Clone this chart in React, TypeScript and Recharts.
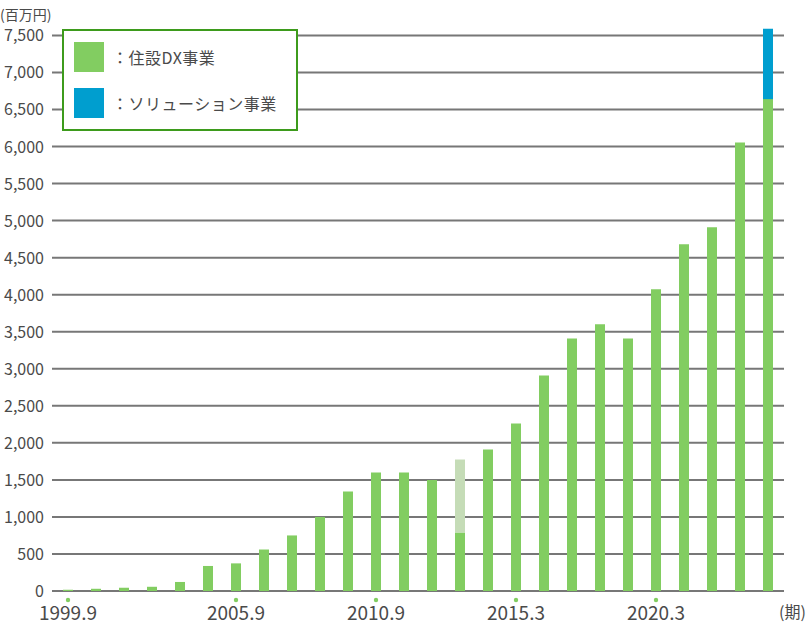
import React from 'react';
import { BarChart, Bar, XAxis, YAxis, CartesianGrid } from 'recharts';

const categories = ['1999.9','2000.9','2001.9','2002.9','2003.9','2004.9','2005.9','2006.9','2007.9','2008.9','2009.9','2010.9','2011.9','2012.9','2013.9','2014.3','2015.3','2016.3','2017.3','2018.3','2019.3','2020.3','2021.3','2022.3','2023.3','2024.3'];
const housingDx = [17, 30, 44, 57, 122, 338, 373, 560, 750, 1000, 1342, 1600, 1600, 1500, 790, 1910, 2260, 2910, 3410, 3600, 3410, 4072, 4680, 4909, 6055, 6640];
const housingDxLight = [0, 0, 0, 0, 0, 0, 0, 0, 0, 0, 0, 0, 0, 0, 985, 0, 0, 0, 0, 0, 0, 0, 0, 0, 0, 0];
const solution = [0, 0, 0, 0, 0, 0, 0, 0, 0, 0, 0, 0, 0, 0, 0, 0, 0, 0, 0, 0, 0, 0, 0, 0, 0, 950];
const labeledTicks = ['1999.9', '2005.9', '2010.9', '2015.3', '2020.3'];
const yTicks = [0, 500, 1000, 1500, 2000, 2500, 3000, 3500, 4000, 4500, 5000, 5500, 6000, 6500, 7000, 7500];
const legendItems = [
  { name: '：住設DX事業', color: '#82cd61' },
  { name: '：ソリューション事業', color: '#009ecf' },
];

const data = categories.map((c, i) => ({
  period: c,
  dx: housingDx[i],
  light: housingDxLight[i],
  sol: solution[i],
}));

const FONT = '"Noto Sans CJK JP", "Noto Sans", sans-serif';
const GREEN = '#82cd61';
const LIGHT = '#c5dcb7';
const BLUE = '#009ecf';
const TEXT = '#4a4a4a';

const XTick = (props: any) => {
  const { x, y, payload } = props;
  if (!labeledTicks.includes(payload.value)) return null;
  return (
    <g>
      <circle cx={x} cy={y + 9} r={2.2} fill={GREEN} />
      <text x={x} y={y + 29} textAnchor="middle" fontSize={19} fill={TEXT} fontFamily={FONT}>
        {payload.value}
      </text>
    </g>
  );
};

const YTick = (props: any) => {
  const { x, y, payload } = props;
  return (
    <text x={x} y={y + 6} textAnchor="end" fontSize={16} fill={TEXT} fontFamily={FONT}>
      {payload.value.toLocaleString('en-US')}
    </text>
  );
};

export default function App() {
  return (
    <div style={{ position: 'absolute', left: 0, top: 0, width: 808, height: 624, fontFamily: FONT, background: '#fff' }}>
      <BarChart
        width={808}
        height={624}
        data={data}
        margin={{ top: 28, right: 24, left: 0, bottom: 0 }}
        barCategoryGap={0}
      >
        <CartesianGrid vertical={false} horizontalValues={yTicks} stroke="#777" strokeWidth={2} />
        <XAxis
          dataKey="period"
          interval={0}
          axisLine={false}
          tickLine={false}
          tickSize={0}
          tickMargin={0}
          height={33}
          padding={{ left: 2, right: 2 }}
          tick={<XTick />}
        />
        <YAxis
          width={52}
          domain={[0, 7600]}
          ticks={yTicks}
          axisLine={false}
          tickLine={false}
          tick={<YTick />}
        />
        <Bar dataKey="dx" stackId="a" fill={GREEN} barSize={10} isAnimationActive={false} />
        <Bar dataKey="light" stackId="a" fill={LIGHT} barSize={10} isAnimationActive={false} />
        <Bar dataKey="sol" stackId="a" fill={BLUE} barSize={10} isAnimationActive={false} />
      </BarChart>
      <div style={{ position: 'absolute', left: 0, top: 4, fontSize: 14, color: TEXT, whiteSpace: 'nowrap', lineHeight: '20px' }}>
        (百万円)
      </div>
      <div style={{ position: 'absolute', left: 779, top: 600, fontSize: 16, color: TEXT, whiteSpace: 'nowrap', lineHeight: '22px' }}>
        (期)
      </div>
      <div
        style={{
          position: 'absolute',
          left: 62,
          top: 29,
          width: 232,
          height: 98,
          border: '2px solid #3d9b1c',
          background: '#fff',
        }}
      >
        {legendItems.map((item, i) => (
          <div key={item.name} style={{ position: 'absolute', left: 10, top: 11 + i * 46, display: 'flex', alignItems: 'center' }}>
            <div style={{ width: 30, height: 30, background: item.color }} />
            <span style={{ marginLeft: 8, fontSize: 16, color: TEXT, whiteSpace: 'nowrap', letterSpacing: 0.5 }}>{item.name}</span>
          </div>
        ))}
      </div>
    </div>
  );
}
